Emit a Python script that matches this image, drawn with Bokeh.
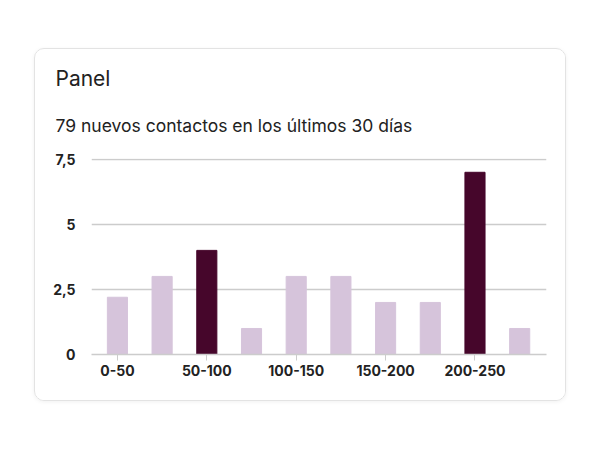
from bokeh.plotting import figure
from bokeh.models import Title, FixedTicker, ColumnDataSource
from bokeh.embed import file_html
from bokeh.resources import INLINE

# datos
bins = ["0-50", "25-75", "50-100", "75-125", "100-150", "125-175",
        "150-200", "175-225", "200-250", "225-275"]
counts = [2.2, 3, 4, 1, 3, 3, 2, 2, 7, 1]
highlight = [False, False, True, False, False, False, False, False, True, False]
y_ticks = [0, 2.5, 5, 7.5]
y_labels = ["0", "2,5", "5", "7,5"]

FONT = "Inter"
LIGHT = "#d6c4db"
DARK = "#46062b"

pos = list(range(len(bins)))
colors = [DARK if h else LIGHT for h in highlight]
src = ColumnDataSource(data=dict(x=pos, top=counts, color=colors))

p = figure(width=532, height=353, x_range=(-0.58, 9.6), y_range=(0, 7.53),
           title=None, toolbar_location=None, output_backend="svg",
           min_border_left=56, min_border_right=21, min_border_bottom=48, min_border_top=109)
p.margin = (48, 0, 0, 34)
p.styles = {"border": "1px solid #e3e3e3", "border-radius": "10px",
            "box-shadow": "0 1px 4px rgba(0,0,0,0.06)", "overflow": "hidden"}

p.add_layout(Title(text="79 nuevos contactos en los últimos 30 días", text_font=FONT,
                   text_font_size="17.5px", text_font_style="normal", text_color="#222222",
                   offset=-36, standoff=45), "above")
p.add_layout(Title(text="Panel", text_font=FONT, text_font_size="21px",
                   text_font_style="normal", text_color="#222222",
                   offset=-36, standoff=0), "above")
# espacio arriba del titulo
p.add_layout(Title(text=" ", text_font=FONT, text_font_size="6px", standoff=0), "above")

p.vbar(x="x", top="top", width=0.45, color="color", source=src)

p.outline_line_color = None
p.xgrid.grid_line_color = None
p.ygrid.grid_line_color = "#cccccc"
p.ygrid.grid_line_width = 1.5
p.ygrid.ticker = FixedTicker(ticks=y_ticks)

p.yaxis.ticker = FixedTicker(ticks=y_ticks)
p.yaxis.major_label_overrides = dict(zip(y_ticks, y_labels))
p.yaxis.axis_line_color = None
p.yaxis.major_tick_line_color = None
p.yaxis.minor_tick_line_color = None
p.yaxis.major_label_standoff = 10

shown = pos[::2]
p.xaxis.ticker = FixedTicker(ticks=shown)
p.xaxis.major_label_overrides = {i: bins[i] for i in shown}
p.xaxis.axis_line_color = "#cccccc"
p.xaxis.axis_line_width = 1.5
p.xaxis.major_tick_line_color = "#cccccc"
p.xaxis.major_tick_in = 0
p.xaxis.major_tick_out = 6
p.xaxis.minor_tick_line_color = None
p.xaxis.major_label_standoff = 4

for ax in (p.xaxis, p.yaxis):
    ax.major_label_text_font = FONT
    ax.major_label_text_font_size = "14px"
    ax.major_label_text_font_style = "bold"
    ax.major_label_text_color = "#222222"

open("out.html", "w").write(file_html(p, INLINE))
